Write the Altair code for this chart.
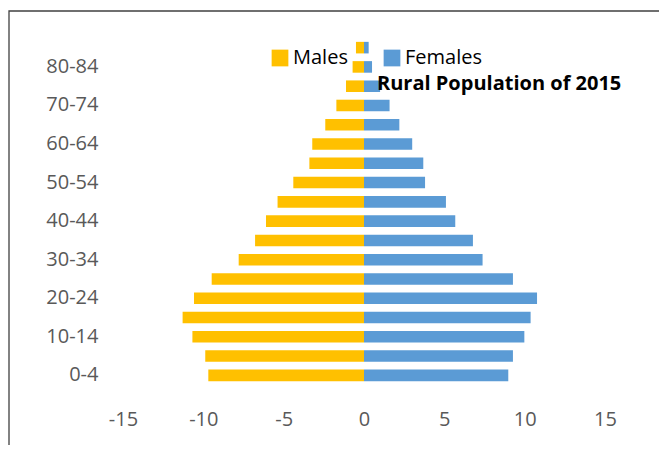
import altair as alt
import pandas as pd

ages = ['0-4', '5-9', '10-14', '15-19', '20-24', '25-29', '30-34', '35-39', '40-44',
        '45-49', '50-54', '55-59', '60-64', '65-69', '70-74', '75-79', '80-84', '85+']
males = [-9.69, -9.88, -10.68, -11.29, -10.58, -9.48, -7.80, -6.78, -6.10,
         -5.38, -4.40, -3.40, -3.22, -2.41, -1.72, -1.12, -0.71, -0.50]
females = [8.98, 9.27, 9.98, 10.37, 10.77, 9.27, 7.38, 6.78, 5.68,
           5.10, 3.80, 3.69, 3.00, 2.20, 1.59, 1.00, 0.50, 0.29]
shown_labels = ['0-4', '10-14', '20-24', '30-34', '40-44', '50-54', '60-64', '70-74', '80-84']
x_ticks = [-15, -10, -5, 0, 5, 10, 15]
series = ['Males', 'Females']
colors = ['#FFC000', '#5B9BD5']

rows = []
for a, m, f in zip(ages, males, females):
    rows.append({'age': a, 'sex': 'Males', 'value': m})
    rows.append({'age': a, 'sex': 'Females', 'value': f})
df = pd.DataFrame(rows)

FONT = 'Open Sans'
label_expr = "indexof(" + str(shown_labels) + ", datum.value) >= 0 ? datum.value : ''"

bars = alt.Chart(df).mark_bar().encode(
    y=alt.Y('age:N', sort=ages[::-1],
            scale=alt.Scale(paddingInner=0.4, paddingOuter=0.2),
            axis=alt.Axis(title=None, ticks=False, domain=False, labelPadding=25,
                          labelFontSize=20, labelColor='#595959', labelFont=FONT,
                          labelExpr=label_expr)),
    x=alt.X('value:Q', stack=None,
            scale=alt.Scale(domain=[-15, 15], nice=False),
            axis=alt.Axis(title=None, values=x_ticks, ticks=False, domain=False, grid=False,
                          labelPadding=24, labelFontSize=20, labelColor='#595959',
                          labelFont=FONT, labelFlush=False,
                          labelExpr="toString(datum.value)")),
    color=alt.Color('sex:N', scale=alt.Scale(domain=series, range=colors),
                    legend=alt.Legend(title=None, orient='none', legendX=147, legendY=10,
                                      direction='horizontal', columns=2,
                                      symbolType='square', symbolSize=280,
                                      symbolStrokeWidth=0, symbolOpacity=1,
                                      labelFontSize=20, labelFont=FONT, labelColor='#000000',
                                      labelOffset=3, columnPadding=34, padding=0)),
)

frame = alt.Chart(alt.Data(values=[{}])).mark_rect(
    fill=None, stroke='#404040', strokeWidth=1.3
).encode(
    x=alt.value(-114), x2=alt.value(700), y=alt.value(-27), y2=alt.value(600)
)

chart = alt.layer(frame, bars).properties(
    width=482, height=347,
    padding={'left': 115, 'top': 30, 'right': 54, 'bottom': 60},
    autosize=alt.AutoSizeParams(type='none'),
    title=alt.TitleParams(text='Rural Population of 2015', anchor='start', frame='group',
                          dx=254, dy=100, offset=0, baseline='alphabetic',
                          fontSize=20, font=FONT, fontWeight='bold', color='#000000'),
).configure_view(stroke=None)

chart.save('out.html', embed_options={'renderer': 'svg', 'actions': False})
